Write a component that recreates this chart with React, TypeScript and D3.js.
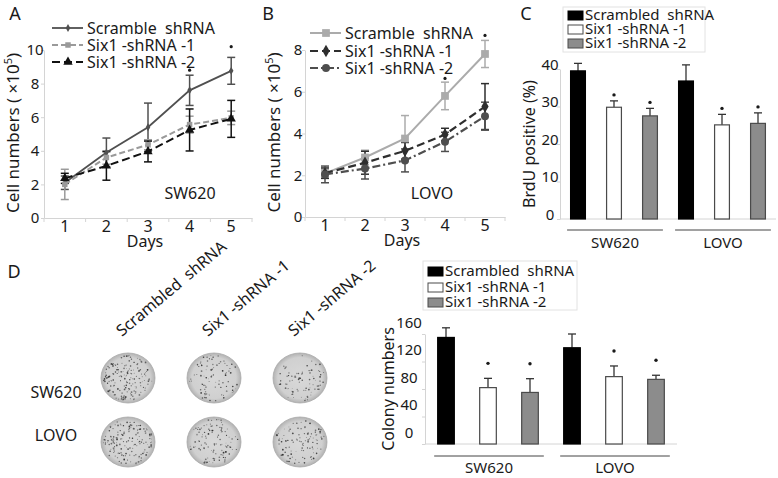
import React, { useEffect, useRef } from 'react';
import * as d3 from 'd3';

const days = [1, 2, 3, 4, 5];
const lineNames = ['Scramble  shRNA', 'Six1 -shRNA -1', 'Six1 -shRNA -2'];
const barNames = ['Scrambled  shRNA', 'Six1 -shRNA -1', 'Six1 -shRNA -2'];
const cellLines = ['SW620', 'LOVO'];

// A: SW620 cell numbers (x10^5)
const swScramble = [2.1, 3.9, 5.4, 7.6, 8.76];
const swScrambleErr = [0.4, 0.86, 1.44, 0.9, 0.8];
const swSh1 = [2.0, 3.6, 4.36, 5.56, 5.96];
const swSh1Err = [0.9, 0.4, 0.3, 0.5, 0.4];
const swSh2 = [2.36, 3.1, 3.96, 5.24, 5.9];
const swSh2Err = [0.3, 0.85, 0.62, 1.25, 1.1];
const swStars = [null, null, null, 8.8, 10.2];
const aTicks = [0, 2, 4, 6, 8, 10];

// B: LOVO cell numbers (x10^5)
const loScramble = [2.09, 2.85, 3.76, 5.8, 7.81];
const loScrambleErr = [0.2, 0.35, 1.1, 0.66, 0.65];
const loSh1 = [2.1, 2.6, 3.17, 3.95, 5.29];
const loSh1Err = [0.25, 0.55, 0.4, 0.3, 1.1];
const loSh2 = [2.04, 2.32, 2.71, 3.6, 4.83];
const loSh2Err = [0.4, 0.5, 0.55, 0.46, 0.67];
const loStars = [null, null, null, 6.64, 8.7];
const bTicks = [0, 2, 4, 6, 8];

// C: BrdU positive (%)
const brduSW620 = [39.5, 29.8, 27.5];
const brduSW620Err = [2.0, 1.7, 2.0];
const brduLOVO = [36.8, 25.1, 25.5];
const brduLOVOErr = [4.3, 2.8, 2.8];
const brduStars = [false, true, true];
const cTicks = [0, 10, 20, 30, 40];

// D: colony numbers
const colonySW620 = [155, 82, 75];
const colonySW620Err = [14, 13.5, 20];
const colonyLOVO = [140, 98, 94];
const colonyLOVOErr = [20, 15.5, 6];
const colonyStars = [false, true, true];
const dTicks = [0, 40, 80, 120, 160];

const FONT = '"Noto Sans", "Open Sans", sans-serif';
const AXIS = '#d4d4d4';
const INK = '#1a1a1a';

type Svg = d3.Selection<SVGSVGElement, unknown, null, undefined>;

interface LineStyle {
  color: string;
  dash: string;
  symbol: d3.SymbolType;
  size: number;
  width: number;
}

interface LineOpts {
  left: number; right: number; top: number; bottom: number;
  yMax: number; ticks: number[];
  values: number[][]; errs: number[][]; stars: (number | null)[];
  styles: LineStyle[];
  labelDx: number; titleX: number;
  legendX: number; legendY: number[];
  cell: string; cellX: number; cellY: number;
}

const styleAxis = (g: d3.Selection<SVGGElement, unknown, null, undefined>, size: number) => {
  g.attr('font-family', FONT).attr('font-size', size);
  g.select('.domain').attr('stroke', AXIS);
  g.selectAll('line').attr('stroke', AXIS);
  g.selectAll('text').attr('fill', INK);
};

const drawLinePanel = (svg: Svg, p: LineOpts) => {
  const x = d3.scaleBand<number>().domain(days).range([p.left, p.right]);
  const y = d3.scaleLinear().domain([0, p.yMax]).range([p.bottom, p.top]);
  const cx = (d: number) => (x(d) as number) + x.bandwidth() / 2;
  const g = svg.append('g');

  const ya = g.append('g').attr('transform', `translate(${p.left},0)`)
    .call(d3.axisLeft(y).tickValues(p.ticks).tickSize(3).tickSizeOuter(0).tickFormat(d3.format('d')));
  styleAxis(ya, 15);
  ya.selectAll('text').attr('x', p.labelDx).attr('text-anchor', 'middle');

  const xa = g.append('g').attr('transform', `translate(0,${p.bottom})`)
    .call(d3.axisBottom(x).tickSize(0).tickSizeOuter(0).tickPadding(3));
  styleAxis(xa, 16);
  g.append('g').selectAll('line').data([...days.map(d => x(d) as number), p.right]).join('line')
    .attr('x1', d => d).attr('x2', d => d).attr('y1', p.bottom).attr('y2', p.bottom + 4)
    .attr('stroke', AXIS);

  g.append('text').attr('x', (p.left + p.right) / 2 - 3).attr('y', p.bottom + 29)
    .attr('text-anchor', 'middle').attr('font-size', 16).attr('fill', INK).text('Days');

  const title = g.append('text').attr('transform', `translate(${p.titleX},${(p.top + p.bottom) / 2 - 1}) rotate(-90)`)
    .attr('text-anchor', 'middle').attr('dy', '0.35em').attr('font-size', 17).attr('fill', INK);
  title.append('tspan').text('Cell numbers ( ×10');
  title.append('tspan').attr('dy', -7).attr('font-size', 11).text('5');
  title.append('tspan').attr('dy', 7).text(')');

  const line = d3.line<number>().x((d, i) => cx(days[i])).y(d => y(d));

  p.values.forEach((vals, si) => {
    const s = p.styles[si];
    const eg = g.append('g').attr('stroke', s.color).attr('stroke-width', 1.5);
    vals.forEach((v, i) => {
      const e = p.errs[si][i];
      const xx = cx(days[i]);
      eg.append('line').attr('x1', xx).attr('x2', xx).attr('y1', y(v - e)).attr('y2', y(v + e));
      [v - e, v + e].forEach(t => {
        eg.append('line').attr('x1', xx - 4).attr('x2', xx + 4).attr('y1', y(t)).attr('y2', y(t));
      });
    });
  });

  p.values.forEach((vals, si) => {
    const s = p.styles[si];
    g.append('path').datum(vals).attr('d', line).attr('fill', 'none')
      .attr('stroke', s.color).attr('stroke-width', s.width).attr('stroke-dasharray', s.dash);
    g.append('g').selectAll('path').data(vals).join('path')
      .attr('transform', (d, i) => `translate(${cx(days[i])},${y(d)})`)
      .attr('d', d3.symbol(s.symbol, s.size)()).attr('fill', s.color);
  });

  p.stars.forEach((v, i) => {
    if (v === null) return;
    g.append('circle').attr('cx', cx(days[i])).attr('cy', y(v)).attr('r', 1.6).attr('fill', INK);
  });

  lineNames.forEach((name, si) => {
    const s = p.styles[si];
    const ly = p.legendY[si];
    g.append('line').attr('x1', p.legendX).attr('x2', p.legendX + 31).attr('y1', ly).attr('y2', ly)
      .attr('stroke', s.color).attr('stroke-width', s.width).attr('stroke-dasharray', s.dash);
    g.append('path').attr('transform', `translate(${p.legendX + 16},${ly})`)
      .attr('d', d3.symbol(s.symbol, s.size)()).attr('fill', s.color);
    g.append('text').attr('x', p.legendX + 35).attr('y', ly).attr('dy', '0.35em')
      .attr('font-size', 16).attr('fill', INK).style('white-space', 'pre').text(name);
  });

  g.append('text').attr('x', p.cellX).attr('y', p.cellY).attr('dy', '0.35em').attr('text-anchor', 'middle')
    .attr('font-size', 16).attr('fill', INK).text(p.cell);
};

interface BarOpts {
  left: number; right: number; top: number; bottom: number;
  yMax: number; ticks: number[];
  values: number[][]; errs: number[][]; stars: boolean[];
  labelDx: number; labelDy: number; starGap: number;
  title: string; titleX: number;
  legendBox: [number, number, number, number]; legendY: number[];
  groupLineY: number; groupLabelY: number;
  padInner: number; padOuter: number;
}

const barFill = ['#000000', '#ffffff', '#8c8c8c'];
const barStroke = ['#000000', '#4a4a4a', '#4a4a4a'];

const drawBarPanel = (svg: Svg, p: BarOpts) => {
  const outer = d3.scaleBand<string>().domain(cellLines).range([p.left, p.right]);
  const inner = d3.scaleBand<number>().domain([0, 1, 2]).range([0, outer.bandwidth()])
    .paddingInner(p.padInner).paddingOuter(p.padOuter);
  const y = d3.scaleLinear().domain([0, p.yMax]).range([p.bottom, p.top]);
  const g = svg.append('g');

  const ya = g.append('g').attr('transform', `translate(${p.left},0)`)
    .call(d3.axisLeft(y).tickValues(p.ticks).tickSize(3).tickSizeOuter(0));
  styleAxis(ya, 15);
  ya.selectAll('text').attr('x', p.labelDx).attr('dy', `${p.labelDy}px`).attr('text-anchor', 'middle');
  g.append('line').attr('x1', p.left).attr('x2', p.right).attr('y1', p.bottom).attr('y2', p.bottom).attr('stroke', AXIS);

  g.append('text').attr('transform', `translate(${p.titleX},${(p.top + p.bottom) / 2}) rotate(-90)`)
    .attr('text-anchor', 'middle').attr('dy', '0.35em').attr('font-size', 16).attr('fill', INK).text(p.title);

  cellLines.forEach((c, gi) => {
    const ox = outer(c) as number;
    const gg = g.append('g').attr('transform', `translate(${ox},0)`);
    p.values[gi].forEach((v, i) => {
      const bx = inner(i) as number;
      const bw = inner.bandwidth();
      const top = y(v + p.errs[gi][i]);
      gg.append('line').attr('x1', bx + bw / 2).attr('x2', bx + bw / 2).attr('y1', y(v)).attr('y2', top)
        .attr('stroke', '#333').attr('stroke-width', 1.3);
      gg.append('line').attr('x1', bx + bw / 2 - 4).attr('x2', bx + bw / 2 + 4).attr('y1', top).attr('y2', top)
        .attr('stroke', '#333').attr('stroke-width', 1.3);
      gg.append('rect').attr('x', bx + 0.5).attr('y', y(v)).attr('width', bw - 1).attr('height', p.bottom - y(v))
        .attr('fill', barFill[i]).attr('stroke', barStroke[i]).attr('stroke-width', 1.2);
      if (p.stars[i]) {
        gg.append('circle').attr('cx', bx + bw / 2).attr('cy', top - p.starGap).attr('r', 1.7).attr('fill', INK);
      }
    });
    const x1 = (inner(0) as number) - 3;
    const x2 = (inner(2) as number) + inner.bandwidth() + 5;
    gg.append('line').attr('x1', x1).attr('x2', x2).attr('y1', p.groupLineY).attr('y2', p.groupLineY)
      .attr('stroke', '#444').attr('stroke-width', 1);
    gg.append('text').attr('x', (x1 + x2) / 2).attr('y', p.groupLabelY).attr('dy', '0.35em')
      .attr('text-anchor', 'middle').attr('font-size', 15).attr('fill', INK).text(c);
  });

  const [bx, by, bw, bh] = p.legendBox;
  g.append('rect').attr('x', bx).attr('y', by).attr('width', bw).attr('height', bh)
    .attr('fill', '#fff').attr('stroke', '#e2e2e2');
  barNames.forEach((name, i) => {
    const ly = p.legendY[i];
    g.append('rect').attr('x', bx + 5).attr('y', ly - 4).attr('width', 15).attr('height', 9)
      .attr('fill', barFill[i]).attr('stroke', barStroke[i]).attr('stroke-width', 1);
    g.append('text').attr('x', bx + 22).attr('y', ly).attr('dy', '0.35em').attr('font-size', 15)
      .attr('fill', INK).style('white-space', 'pre').text(name);
  });
};

const drawPlates = (svg: Svg) => {
  const col = d3.scalePoint<string>().domain(barNames).range([128, 300]);
  const row = d3.scalePoint<string>().domain(cellLines).range([378, 442]);
  const counts = [colonySW620, colonyLOVO];
  const hash = (k: number) => {
    const s = Math.sin(k * 127.1 + 311.7) * 43758.5453;
    return s - Math.floor(s);
  };
  const defs = svg.append('defs');
  const grad = defs.append('radialGradient').attr('id', 'plateGrad');
  grad.append('stop').attr('offset', '0%').attr('stop-color', '#d8d8d8');
  grad.append('stop').attr('offset', '82%').attr('stop-color', '#d0d0d0');
  grad.append('stop').attr('offset', '100%').attr('stop-color', '#b2b2b2');

  const g = svg.append('g');
  barNames.forEach((name, ci) => {
    const px = col(name) as number;
    g.append('text').attr('transform', `translate(${px - 6},${337}) rotate(-40)`)
      .attr('font-size', 16).attr('fill', INK).style('white-space', 'pre').text(name);
    cellLines.forEach((c, ri) => {
      const py = row(c) as number;
      g.append('ellipse').attr('cx', px).attr('cy', py).attr('rx', 27).attr('ry', 25)
        .attr('fill', 'url(#plateGrad)').attr('stroke', '#a8a8a8').attr('stroke-width', 0.8);
      const n = Math.round(counts[ri][ci] * 1.1);
      for (let i = 0; i < n; i++) {
        const k = ri * 1000 + ci * 300 + i;
        const r = Math.sqrt(hash(k)) * 0.92;
        const a = hash(k + 0.37) * Math.PI * 2;
        g.append('circle').attr('cx', px + Math.cos(a) * r * 27).attr('cy', py + Math.sin(a) * r * 25)
          .attr('r', 0.4 + hash(k + 0.71) * 0.5).attr('fill', '#222').attr('opacity', 0.4 + hash(k + 0.13) * 0.5);
      }
    });
  });
  cellLines.forEach(c => {
    g.append('text').attr('x', 56).attr('y', (row(c) as number) + (c === 'SW620' ? 14 : -7)).attr('dy', '0.35em')
      .attr('text-anchor', 'middle').attr('font-size', 16).attr('fill', INK).text(c);
  });
};

const App: React.FC = () => {
  const svgRef = useRef<SVGSVGElement | null>(null);

  useEffect(() => {
    const svg = d3.select(svgRef.current as SVGSVGElement);
    svg.selectAll('*').remove();
    svg.attr('font-family', FONT);

    drawLinePanel(svg, {
      left: 44, right: 252, top: 50, bottom: 218, yMax: 10, ticks: aTicks,
      values: [swScramble, swSh1, swSh2], errs: [swScrambleErr, swSh1Err, swSh2Err], stars: swStars,
      styles: [
        { color: '#505050', dash: 'none', symbol: d3.symbolDiamond, size: 18, width: 1.8 },
        { color: '#9a9a9a', dash: '6,3', symbol: d3.symbolSquare, size: 30, width: 2 },
        { color: '#111111', dash: '8,4', symbol: d3.symbolTriangle, size: 38, width: 2 },
      ],
      labelDx: -9, titleX: 13, legendX: 52, legendY: [28, 45, 62],
      cell: 'SW620', cellX: 190, cellY: 193,
    });

    drawLinePanel(svg, {
      left: 305, right: 505, top: 50, bottom: 217, yMax: 8, ticks: bTicks,
      values: [loScramble, loSh1, loSh2], errs: [loScrambleErr, loSh1Err, loSh2Err], stars: loStars,
      styles: [
        { color: '#ababab', dash: 'none', symbol: d3.symbolSquare, size: 60, width: 2 },
        { color: '#2e2e2e', dash: '8,4', symbol: d3.symbolDiamond, size: 45, width: 2.2 },
        { color: '#4e4e4e', dash: '8,3,2,3', symbol: d3.symbolCircle, size: 50, width: 2.2 },
      ],
      labelDx: -7, titleX: 274, legendX: 310, legendY: [33, 51, 68],
      cell: 'LOVO', cellX: 432, cellY: 193,
    });

    drawBarPanel(svg, {
      left: 560, right: 776, top: 69, bottom: 219, yMax: 40, ticks: cTicks,
      values: [brduSW620, brduLOVO], errs: [brduSW620Err, brduLOVOErr], stars: brduStars,
      labelDx: -10, labelDy: 0, starGap: 6,
      title: 'BrdU  positive (%)', titleX: 529,
      legendBox: [563, 7, 142, 45], legendY: [15, 29, 43],
      groupLineY: 230, groupLabelY: 243, padInner: 0.56, padOuter: 0.28,
    });

    drawBarPanel(svg, {
      left: 425, right: 677, top: 334, bottom: 444, yMax: 160, ticks: dTicks,
      values: [colonySW620, colonyLOVO], errs: [colonySW620Err, colonyLOVOErr], stars: colonyStars,
      labelDx: -16, labelDy: -7, starGap: 15,
      title: 'Colony numbers', titleX: 388,
      legendBox: [423, 261, 154, 49], legendY: [271, 287, 302],
      groupLineY: 456, groupLabelY: 468, padInner: 0.58, padOuter: 0.29,
    });

    drawPlates(svg);

    const letters: [string, number, number][] = [['A', 15, 14], ['B', 268, 14], ['C', 526, 14], ['D', 14, 272]];
    svg.append('g').selectAll('text').data(letters).join('text')
      .attr('x', d => d[1]).attr('y', d => d[2]).attr('dy', '0.35em').attr('text-anchor', 'middle')
      .attr('font-size', 18).attr('fill', INK).text(d => d[0]);
  }, []);

  return (
    <svg ref={svgRef} width={778} height={478}
      style={{ position: 'absolute', left: 0, top: 0, background: '#fff', display: 'block' }} />
  );
};

export default App;
